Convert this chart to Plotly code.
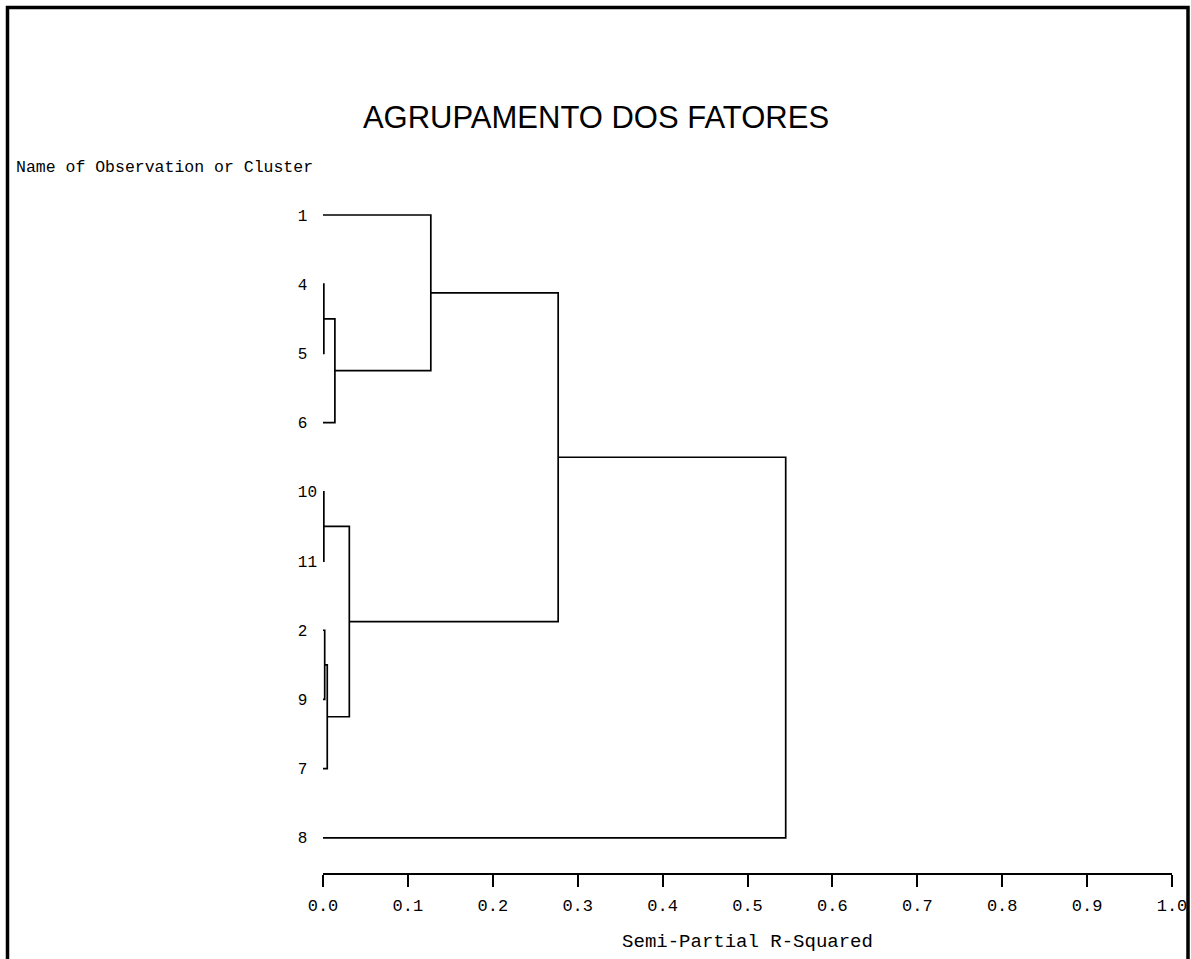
import plotly.graph_objects as go

# Leaf order (top to bottom) as shown in the dendrogram
leaves = ["1", "4", "5", "6", "10", "11", "2", "9", "7", "8"]

# Cluster joins: (left member, right member, semi-partial R-squared)
join_left = ["4", "10", "2", "2+9", "4+5", "10+11", "1", "1+4+5+6", "1+4+5+6+10+11+2+9+7"]
join_right = ["5", "11", "9", "7", "6", "2+9+7", "4+5+6", "10+11+2+9+7", "8"]
join_height = [0.001, 0.001, 0.002, 0.005, 0.014, 0.031, 0.127, 0.277, 0.545]

x_ticks = [0.0, 0.1, 0.2, 0.3, 0.4, 0.5, 0.6, 0.7, 0.8, 0.9, 1.0]

# ---- build dendrogram segments from the join table ----
pos = {name: (0.0, float(i)) for i, name in enumerate(leaves)}
xs, ys = [], []
for a, b, h in zip(join_left, join_right, join_height):
    xa, ya = pos[a]
    xb, yb = pos[b]
    xs += [xa, h, h, xb, None]
    ys += [ya, ya, yb, yb, None]
    pos[a + "+" + b] = (h, (ya + yb) / 2.0)

W, H = 1191, 959
L, R, T, B = 323, 19, 180, 86
pw, ph = W - L - R, H - T - B


def px_x(p):
    return (p - L) / pw


def px_y(p):
    return (H - B - p) / ph


fig = go.Figure()
fig.add_trace(go.Scatter(x=xs, y=ys, mode="lines",
                         line=dict(color="black", width=1.7),
                         hoverinfo="skip", showlegend=False))

mono = "Liberation Mono, DejaVu Sans Mono, monospace"

fig.update_layout(
    width=W, height=H,
    margin=dict(l=L, r=R, t=T, b=B, autoexpand=False),
    paper_bgcolor="white", plot_bgcolor="white",
    title=dict(text="AGRUPAMENTO DOS FATORES",
               font=dict(family="Liberation Sans, Arial, sans-serif", size=31, color="black"),
               x=596 / W, xanchor="center", xref="container",
               y=1 - 117 / H, yanchor="middle", yref="container"),
    xaxis=dict(range=[0, 1], tickvals=x_ticks, tickformat=".1f",
               showline=True, linecolor="black", linewidth=2,
               ticks="outside", ticklen=12, tickwidth=2, tickcolor="black",
               showgrid=False, zeroline=False,
               tickfont=dict(family=mono, size=17, color="black"),
               ticklabelstandoff=4,
               title=dict(text="Semi-Partial R-Squared",
                          font=dict(family=mono, size=19, color="black"),
                          standoff=18)),
    yaxis=dict(range=[9.508, -0.506], tickvals=list(range(len(leaves))),
               ticktext=[s.ljust(2) for s in leaves],
               showline=False, showgrid=False, zeroline=False, ticks="",
               tickfont=dict(family=mono, size=16, color="black"),
               ticklabelstandoff=5),
)

fig.add_annotation(text="Name of Observation or Cluster", xref="paper", yref="paper",
                   x=px_x(14), y=px_y(167), xanchor="left", yanchor="middle",
                   showarrow=False, font=dict(family=mono, size=16.5, color="black"))

# outer frame (left, top, right edges)
fx0, fx1 = px_x(7.5), px_x(1188)
fy0, fy1 = px_y(975), px_y(7.5)
fig.add_shape(type="path", xref="paper", yref="paper",
              path=f"M {fx0} {fy0} L {fx0} {fy1} L {fx1} {fy1} L {fx1} {fy0}",
              line=dict(color="black", width=3.5))

fig.write_html("out.html",
               config={"displayModeBar": False},
               post_script="document.body.style.margin='0';document.body.style.overflow='hidden';")
